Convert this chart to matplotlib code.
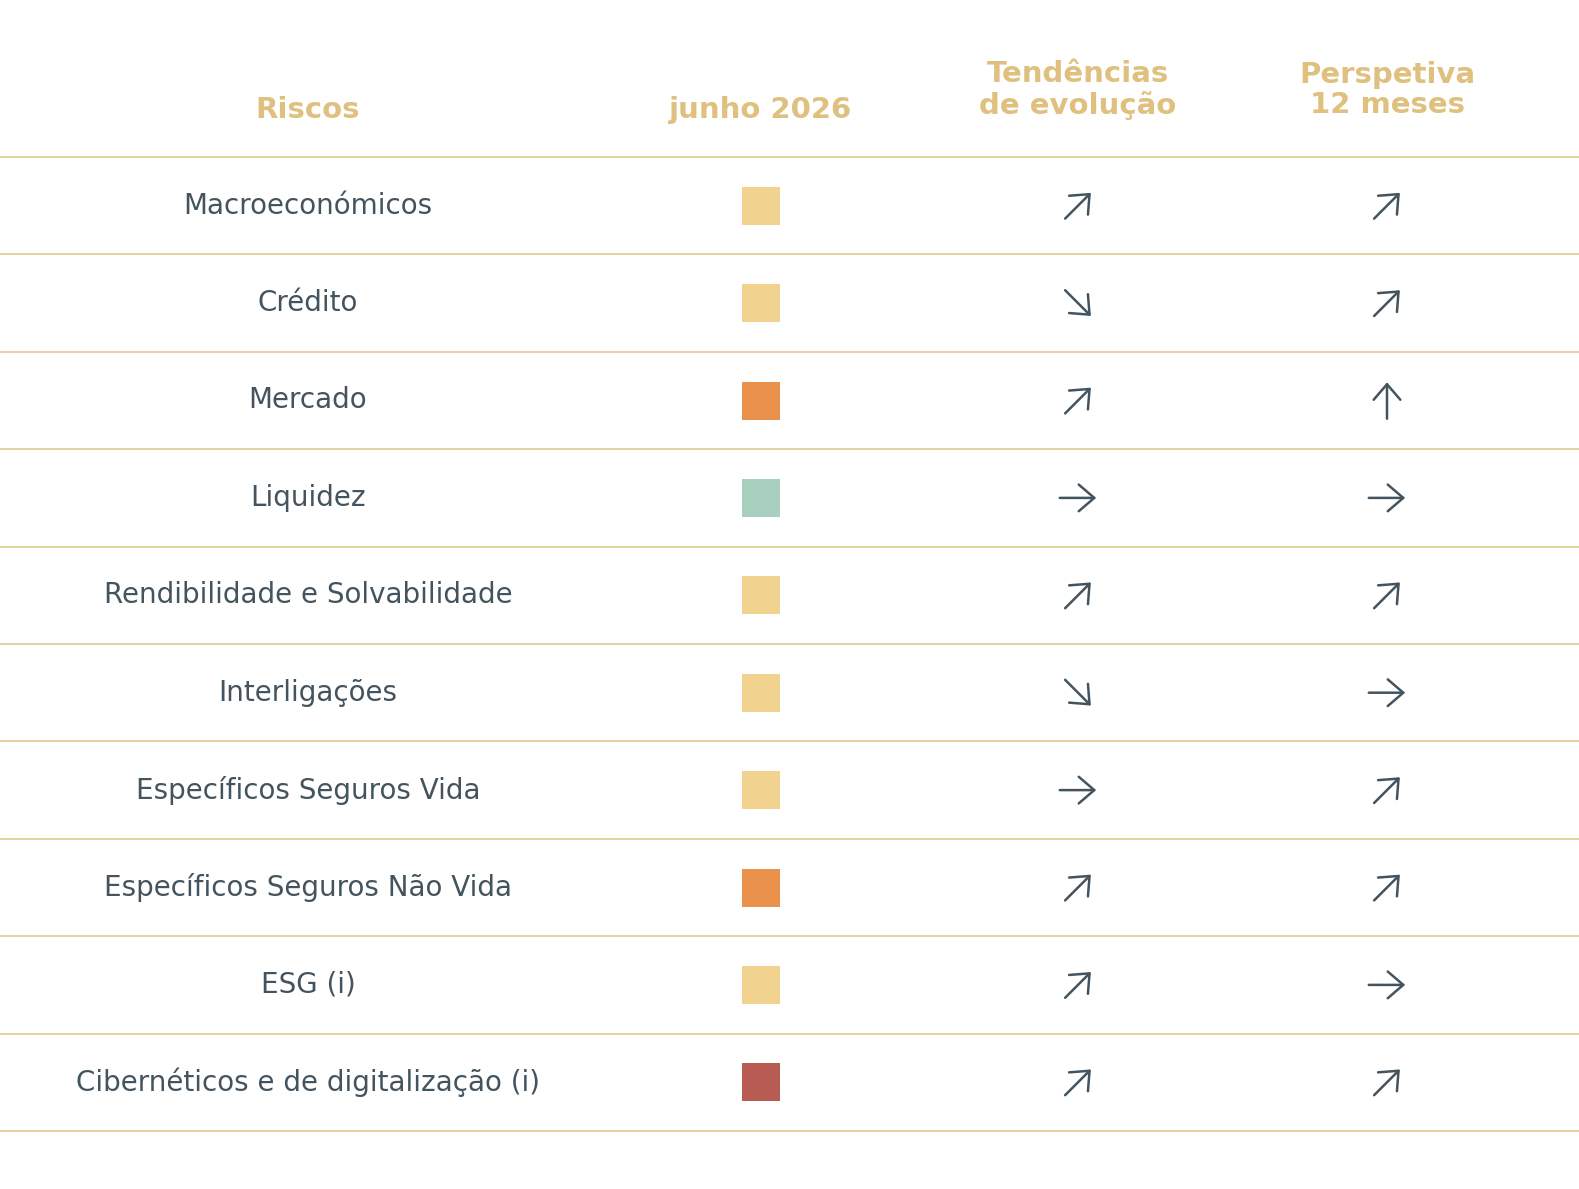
import matplotlib
matplotlib.use("Agg")
import matplotlib.pyplot as plt
import numpy as np
from matplotlib.patches import Rectangle, FancyArrowPatch

risks = ["Macroeconómicos", "Crédito", "Mercado", "Liquidez",
         "Rendibilidade e Solvabilidade", "Interligações",
         "Específicos Seguros Vida", "Específicos Seguros Não Vida",
         "ESG (i)", "Cibernéticos e de digitalização (i)"]
level = ["medium", "medium", "high", "low", "medium", "medium",
         "medium", "high", "medium", "very_high"]
trend = ["up_right", "down_right", "up_right", "right", "up_right",
         "down_right", "right", "up_right", "up_right", "up_right"]
outlook = ["up_right", "up_right", "up", "right", "up_right", "right",
           "up_right", "up_right", "right", "up_right"]
headers = ["Riscos", "junho 2026", "Tendências\nde evolução", "Perspetiva\n12 meses"]

level_colors = {"low": "#A9D0BE", "medium": "#F2D28F",
                "high": "#EA924B", "very_high": "#B85B52"}
angles = {"up_right": 45, "down_right": -45, "right": 0, "up": 90}

text_col = "#44545E"
head_col = "#DFC07F"
line_col = "#E3C98F"
plt.rcParams['font.family'] = ['DejaVu Sans']

W, H = 1579, 1189
fig = plt.figure(figsize=(W / 100, H / 100), dpi=100)
ax = fig.add_axes([0, 0, 1, 1])
ax.set_xlim(0, W)
ax.set_ylim(H, 0)
ax.axis("off")

cols = [308, 761, 1078, 1387]
top = 157
rh = 97.4

for x, h in zip(cols, headers):
    ax.text(x, 110 if "\n" not in h else 90, h, ha="center", va="center",
            fontsize=21, fontweight="bold", color=head_col, linespacing=1.1)

ax.plot([0, W], [top, top], color=line_col, lw=1.2)
for i, r in enumerate(risks):
    yc = top + rh * (i + 0.5)
    ax.plot([0, W], [top + rh * (i + 1)] * 2, color=line_col, lw=1.2)
    ax.text(cols[0], yc, r, ha="center", va="center", fontsize=20, color=text_col)
    ax.add_patch(Rectangle((cols[1] - 19, yc - 19), 38, 38,
                           color=level_colors[level[i]], lw=0))
    for x, d in [(cols[2], trend[i]), (cols[3], outlook[i])]:
        a = np.deg2rad(angles[d])
        dx, dy = 21 * np.cos(a), -21 * np.sin(a)
        ax.add_patch(FancyArrowPatch((x - dx, yc - dy), (x + dx, yc + dy),
                                     arrowstyle="->,head_length=7,head_width=6",
                                     color=text_col, lw=1.8, mutation_scale=1.6))

fig.savefig("out.png", dpi=100)
